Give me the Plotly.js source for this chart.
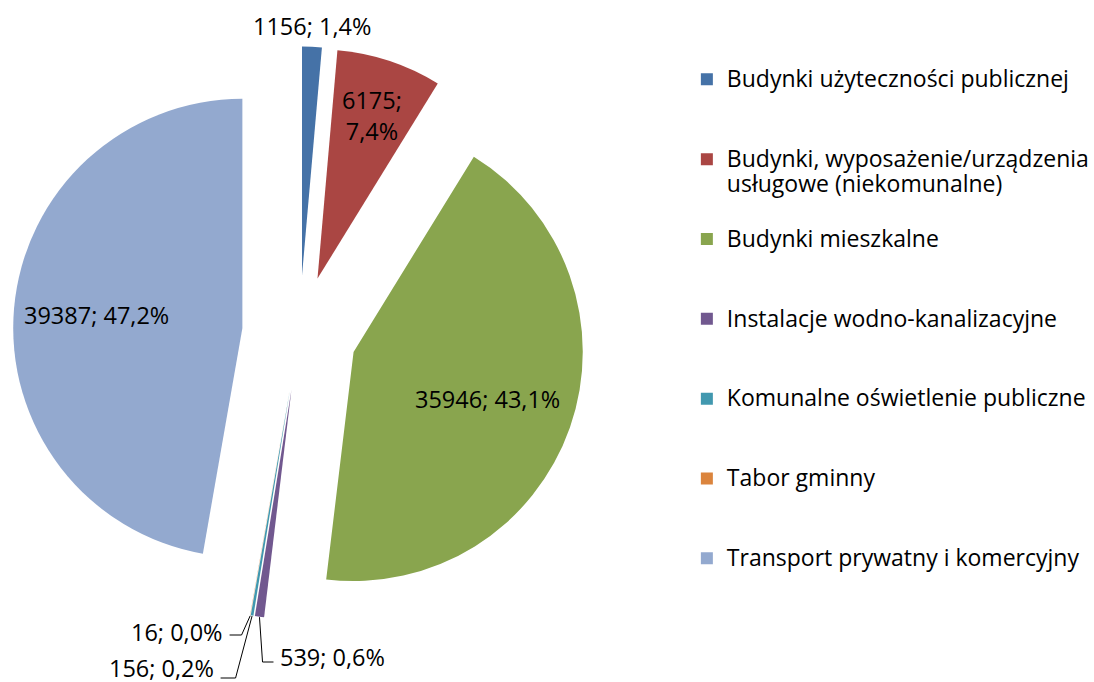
<!DOCTYPE html>
<html>
<head>
<meta charset="utf-8">
<script src="https://cdn.plot.ly/plotly-3.0.1.min.js"></script>
<style>
  html, body { margin: 0; padding: 0; background: #fff; }
  #chart { width: 1094px; height: 682px; }
</style>
</head>
<body>
<div id="chart"></div>
<script>
const categories = [
  "Budynki użyteczności publicznej",
  "Budynki, wyposażenie/urządzenia<br>usługowe (niekomunalne)",
  "Budynki mieszkalne",
  "Instalacje wodno-kanalizacyjne",
  "Komunalne oświetlenie publiczne",
  "Tabor gminny",
  "Transport prywatny i komercyjny"
];
const values = [1156, 6175, 35946, 539, 156, 16, 39387];
const colors = ["#4572A7", "#AA4643", "#89A54E", "#71588F", "#4198AF", "#DB843D", "#93A9CF"];

const W = 1094, H = 682;
const FONT = "'Open Sans', sans-serif";
const LABEL_SIZE = 23.5;
const pull = 0.25;
const dom = { x: [0.0119, 0.5366], y: [0.0909, 0.9326] };

// where each data label goes: inside at a fraction of the radius, or outside with a leader
// [mode, radial fraction | label x, label y, knee x, line y, anchor]
const labelSpec = [
  ["top"],
  ["in", 0.75],
  ["in", 0.62],
  ["out", 279, 657, 263, 662, "left"],
  ["out", 216, 668, 236, 678, "right"],
  ["out", 225, 632, 242, 635, "right"],
  ["in", 0.64]
];

// legend rows are padded with blank lines so they sit ~80px apart;
// the visible text is set larger than the row spacing font
const big = s => s.split("<br>").map(t => `<span style="font-size:23px">${t}</span>`).join("<br>");
const legendLabels = categories.map(c =>
  c.includes("<br>") ? " <br>" + big(c) : " <br>" + big(c) + "<br> "
);

const total = values.reduce((a, b) => a + b, 0);
const fmtPct = v => (v / total * 100).toFixed(1).replace(".", ",") + "%";

// same geometry plotly uses for the pie
const boxW = W * (dom.x[1] - dom.x[0]);
const boxH = H * (dom.y[1] - dom.y[0]);
const r = Math.min(boxW, boxH) / 2 / (1 + pull);
const cx = W * (dom.x[0] + dom.x[1]) / 2;
const cy = H * (1 - dom.y[0]) - boxH / 2;

const px = x => x / W;
const py = y => 1 - y / H;

const annotations = [];
const shapes = [];
let cum = 0;
values.forEach((v, i) => {
  const a = 2 * Math.PI * (cum + v / 2) / total;
  cum += v;
  const dx = Math.sin(a), dy = -Math.cos(a);
  const pcx = cx + pull * r * dx, pcy = cy + pull * r * dy;
  const spec = labelSpec[i];
  const sep = i === 1 ? ";<br>" : "; ";
  const txt = v + sep + fmtPct(v);
  const base = {
    xref: "paper", yref: "paper", showarrow: false, text: txt,
    font: { family: FONT, size: LABEL_SIZE, color: "#000" }
  };
  if (spec[0] === "in") {
    annotations.push(Object.assign(base, {
      x: px(pcx + spec[1] * r * dx), y: py(pcy + spec[1] * r * dy),
      xanchor: "center", yanchor: "middle"
    }));
  } else if (spec[0] === "top") {
    annotations.push(Object.assign(base, {
      x: px(pcx + r * dx), y: py(pcy + r * dy),
      xanchor: "center", yanchor: "bottom", yshift: 2
    }));
  } else {
    const [, lx, ly, kx, lineY, anchor] = spec;
    const tipX = pcx + r * dx, tipY = pcy + r * dy;
    const endX = anchor === "left" ? lx - 5 : lx + 5;
    shapes.push({
      type: "path", xref: "paper", yref: "paper",
      path: `M ${px(tipX)} ${py(tipY)} L ${px(kx)} ${py(lineY)} L ${px(endX)} ${py(lineY)}`,
      line: { color: "#000", width: 1 }
    });
    annotations.push(Object.assign(base, {
      x: px(lx), y: py(ly), xanchor: anchor, yanchor: "middle"
    }));
  }
});

const trace = {
  type: "pie",
  labels: legendLabels,
  values: values,
  sort: false,
  direction: "clockwise",
  rotation: 0,
  pull: pull,
  marker: { colors: colors, line: { width: 0 } },
  textinfo: "none",
  domain: dom,
  hoverinfo: "none"
};

const layout = {
  width: W,
  height: H,
  margin: { l: 0, r: 0, t: 0, b: 0 },
  paper_bgcolor: "#fff",
  showlegend: true,
  legend: {
    x: 0.629,
    y: 0.9495,
    xanchor: "left",
    yanchor: "top",
    font: { family: FONT, size: 19.7, color: "#000" },
    itemwidth: 30,
    traceorder: "normal"
  },
  font: { family: FONT },
  annotations: annotations,
  shapes: shapes
};

Plotly.newPlot("chart", [trace], layout, { displayModeBar: false, staticPlot: true });
</script>
</body>
</html>
